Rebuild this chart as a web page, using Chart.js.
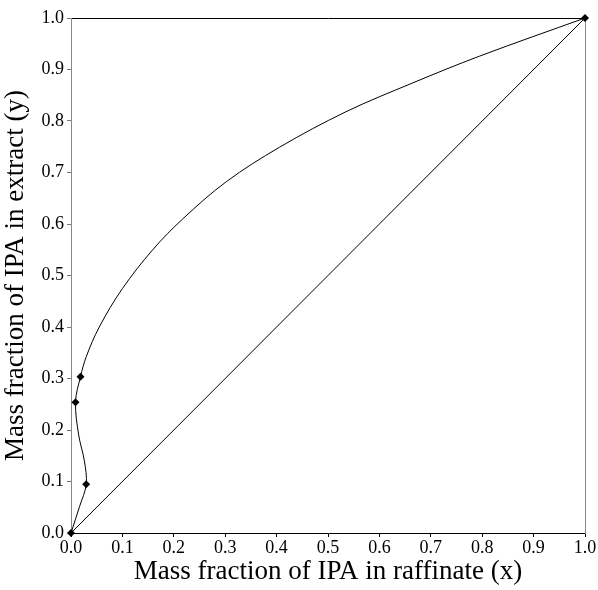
<!DOCTYPE html>
<html>
<head>
<meta charset="utf-8">
<script src="https://cdn.jsdelivr.net/npm/chart.js@4"></script>
<style>
html,body{margin:0;padding:0;background:#fff;}
#wrap{width:598px;height:590px;position:relative;}
</style>
</head>
<body>
<div id="wrap"><canvas id="c" width="598" height="590"></canvas></div>
<script>
// Equilibrium curve
const curveX = [0, 0.0165, 0.0296, 0.026, 0.015, 0.0088, 0.0185, 0.0296, 0.055, 0.1, 0.159, 0.2175, 0.302, 0.4056, 0.535, 0.665, 0.795, 1.0];
const curveY = [0, 0.051, 0.0945, 0.14, 0.19, 0.254, 0.3035, 0.342, 0.40, 0.4745, 0.55, 0.61, 0.682, 0.749, 0.818, 0.874, 0.926, 1.0];
// Experimental points
const markerX = [0, 0.0296, 0.0088, 0.0185, 1.0];
const markerY = [0, 0.0945, 0.254, 0.3035, 1.0];
// Diagonal y = x
const diagX = [0, 1];
const diagY = [0, 1];
// Ticks
const tickValues = [0, 0.1, 0.2, 0.3, 0.4, 0.5, 0.6, 0.7, 0.8, 0.9, 1.0];
const xTitle = "Mass fraction of IPA in raffinate (x)";
const yTitle = "Mass fraction of IPA in extract (y)";

const toPts = (xs, ys) => xs.map((x, i) => ({x: x, y: ys[i]}));
const font = "'Liberation Serif', 'Times New Roman', serif";

const fixedTicks = (axis) => { axis.ticks = tickValues.map(v => ({value: v})); };

new Chart(document.getElementById('c'), {
  type: 'scatter',
  data: {
    datasets: [
      {
        data: toPts(curveX, curveY),
        showLine: true, tension: 0.35,
        borderColor: '#000', borderWidth: 1,
        pointRadius: 0
      },
      {
        data: toPts(diagX, diagY),
        showLine: true, tension: 0,
        borderColor: '#000', borderWidth: 1,
        pointRadius: 0
      },
      {
        data: toPts(markerX, markerY),
        showLine: false, clip: false,
        pointStyle: 'rectRot', pointRadius: 4,
        backgroundColor: '#000', borderColor: '#000', borderWidth: 0
      }
    ]
  },
  options: {
    responsive: false,
    animation: false,
    layout: {padding: {top: 18, right: 13, left: 0, bottom: 0}},
    plugins: {legend: {display: false}, tooltip: {enabled: false}},
    scales: {
      x: {
        type: 'linear', position: 'bottom', min: 0, max: 1,
        afterBuildTicks: fixedTicks,
        grid: {display: true, drawOnChartArea: false, drawTicks: true, tickLength: 4, color: '#000'},
        border: {display: true, color: '#000', width: 1},
        ticks: {color: '#000', font: {family: font, size: 18}, padding: 0, maxRotation: 0,
                callback: v => Number(v).toFixed(1)},
        title: {display: true, text: xTitle, color: '#000', font: {family: font, size: 27}, padding: {top: 0, bottom: 2}},
        afterFit: s => { s.height = 57; }
      },
      x2: {
        type: 'linear', position: 'top', min: 0, max: 1,
        grid: {display: false},
        border: {display: true, color: '#000', width: 1},
        ticks: {display: false},
        afterFit: s => { s.height = 0; }
      },
      y: {
        type: 'linear', position: 'left', min: 0, max: 1,
        afterBuildTicks: fixedTicks,
        grid: {display: true, drawOnChartArea: false, drawTicks: true, tickLength: 4, color: '#777'},
        border: {display: true, color: '#888', width: 1},
        ticks: {color: '#000', font: {family: font, size: 18}, padding: 3,
                callback: v => Number(v).toFixed(1)},
        title: {display: true, text: yTitle, color: '#000', font: {family: font, size: 27}, padding: {top: 0, bottom: 2}},
        afterFit: s => { s.width = 71; }
      },
      y2: {
        type: 'linear', position: 'right', min: 0, max: 1,
        grid: {display: false},
        border: {display: true, color: '#888', width: 1},
        ticks: {display: false},
        afterFit: s => { s.width = 0; }
      }
    }
  }
});
</script>
</body>
</html>
